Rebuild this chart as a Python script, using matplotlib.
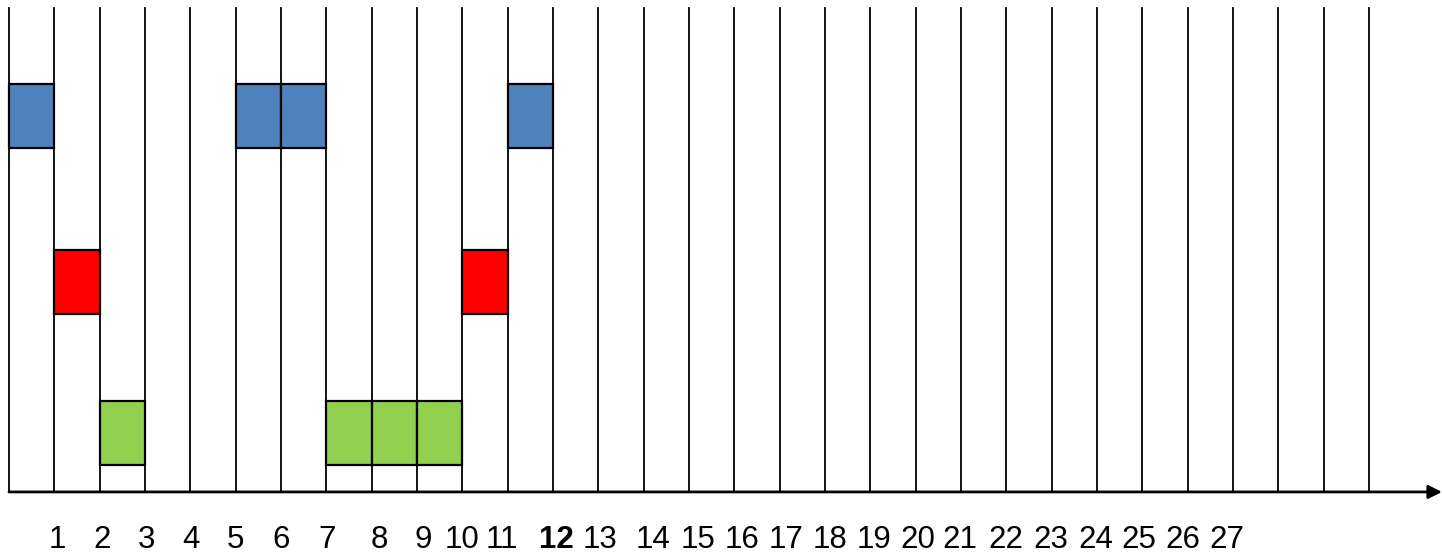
import matplotlib.pyplot as plt

plt.rcParams['font.family'] = ['Liberation Sans', 'DejaVu Sans']

# grid of time slots
n_lines = 31
labels = [str(i) for i in range(1, 28)]
bold_label = '12'
# where each label sits, in slot units (labels are not perfectly aligned in the original)
label_pos = [1.06, 2.05, 3.04, 4.02, 5.0, 6.0, 7.02, 8.16, 9.13, 10.0, 10.87, 12.07,
             13.04, 14.21, 15.2, 16.17, 17.14, 18.11, 19.08, 20.05, 20.98, 21.99,
             22.99, 23.98, 24.93, 25.9, 26.87]

# occupied slots per row (slot index = left line)
blue_slots = [0, 5, 6, 11]
red_slots = [1, 10]
green_slots = [2, 7, 8, 9]

rows = [
    (blue_slots, 5.375, '#4F81BD'),
    (red_slots, 2.78, '#FF0000'),
    (green_slots, 0.42, '#92D050'),
]

fig = plt.figure(figsize=(14.42, 5.54), dpi=100)
ax = fig.add_axes([0, 0, 1, 1])
unit = 1442 / 45.33
x0 = -9 / 45.33
ax.set_xlim(x0, x0 + unit)
ax.set_ylim(-0.97, 7.69)
ax.axis('off')

# vertical lines
for i in range(n_lines):
    ax.plot([i, i], [0, 7.56], color='black', lw=1.3, zorder=1)

# cells
for slots, bottom, color in rows:
    ax.bar(slots, 1.0, width=1.0, bottom=bottom, align='edge',
           color=color, edgecolor='black', linewidth=1.6, zorder=2)

# time axis with arrow
ax.annotate('', xy=(x0 + unit, 0), xytext=(0, 0),
            arrowprops=dict(arrowstyle='-|>,head_length=0.8,head_width=0.4',
                            color='black', lw=2.0, shrinkA=0, shrinkB=0),
            zorder=3)

for lab, xp in zip(labels, label_pos):
    ax.text(xp, -0.75, lab, ha='center', va='center', fontsize=22.5,
            fontweight='bold' if lab == bold_label else 'normal')

fig.savefig('out.png', dpi=100)
